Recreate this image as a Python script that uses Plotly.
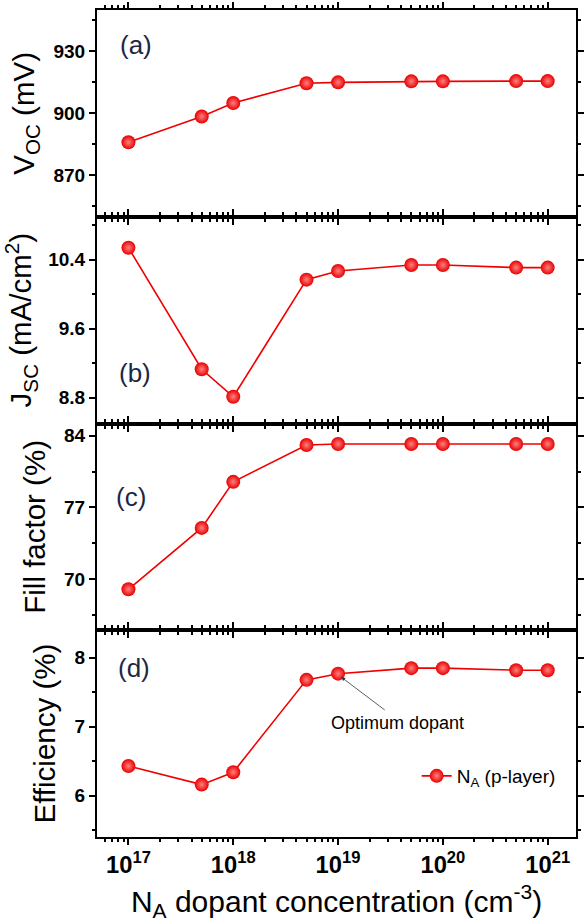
import numpy as np
import plotly.graph_objects as go
from plotly.subplots import make_subplots

conc = [1e17, 5e17, 1e18, 5e18, 1e19, 5e19, 1e20, 5e20, 1e21]
voc = [886, 898.5, 905, 914.6, 915, 915.5, 915.5, 915.6, 915.6]
jsc = [10.54, 9.13, 8.81, 10.17, 10.27, 10.34, 10.34, 10.31, 10.31]
ff = [69.0, 75.0, 79.5, 83.1, 83.2, 83.2, 83.2, 83.2, 83.2]
eff = [6.43, 6.16, 6.34, 7.68, 7.77, 7.85, 7.85, 7.82, 7.82]

series = [voc, jsc, ff, eff]
y_titles = ["V<sub>OC</sub> (mV)", "J<sub>SC</sub> (mA/cm<sup>2</sup>)",
            "Fill factor (%)", "Efficiency (%)"]
panel_labels = ["(a)", "(b)", "(c)", "(d)"]
y_ranges = [[850, 950], [8.5, 10.9], [65, 85.2], [5.4, 8.4]]
y_ticks = [[870, 900, 930], [8.8, 9.6, 10.4], [70, 77, 84], [6, 7, 8]]
y_ticktext = [["870", "900", "930"], ["8.8", "9.6", "10.4"], ["70", "77", "84"], ["6", "7", "8"]]
y_minor = [15, 0.4, 3.5, 0.5]

RED = "#f00000"
fig = make_subplots(rows=4, cols=1, shared_xaxes=True, vertical_spacing=0)

for i, ys in enumerate(series):
    fig.add_trace(go.Scatter(
        x=conc, y=ys, mode="lines+markers",
        name="N<sub>A</sub> (p-layer)",
        showlegend=(i == 3),
        line=dict(color=RED, width=1.6),
        marker=dict(size=14, color="#e80000",
                    gradient=dict(type="radial", color="#ff8080"),
                    line=dict(width=0)),
    ), row=i + 1, col=1)

axis_font = dict(family="Liberation Sans, Arial", size=19, color="black", weight="bold")
for i in range(4):
    fig.update_yaxes(
        row=i + 1, col=1,
        range=y_ranges[i], tickvals=y_ticks[i], ticktext=y_ticktext[i],
        ticks="outside", ticklen=6, tickwidth=1.5, tickcolor="black",
        showline=True, linecolor="black", linewidth=2, mirror="ticks",
        showgrid=False, zeroline=False, tickfont=axis_font,
        minor=dict(dtick=y_minor[i], tick0=y_ticks[i][0], ticks="outside",
                   ticklen=3, tickcolor="black", showgrid=False),
        title=dict(text=y_titles[i], standoff=10,
                   font=dict(family="Liberation Sans, Arial", size=29.5, color="black")),
    )
    fig.update_xaxes(
        row=i + 1, col=1,
        type="log", range=[16.70, 21.27], dtick=1, exponentformat="power",
        ticks="outside", ticklen=6, tickwidth=1.5, tickcolor="black",
        showline=True, linecolor="black", linewidth=2, mirror="ticks",
        showgrid=False, zeroline=False, tickfont=axis_font,
        showticklabels=(i == 3),
        minor=dict(dtick="D1", ticks="outside", ticklen=3, tickcolor="black", showgrid=False),
    )

fig.update_xaxes(row=4, col=1,
                 title=dict(text="N<sub>A</sub> dopant concentration (cm<sup>-3</sup>)",
                            standoff=16,
                            font=dict(family="Liberation Sans, Arial", size=30, color="black")))

label_pos = [(137, 45), (136, 373), (132, 497), (135, 668)]
for lab, (px, py) in zip(panel_labels, label_pos):
    fig.add_annotation(text=lab, xref="paper", yref="paper",
                       x=(px - 97) / 487, y=(837 - py) / 827,
                       xanchor="center", yanchor="middle", showarrow=False,
                       font=dict(family="Liberation Sans, Arial", size=26, color="#1c2744"))

fig.add_annotation(text="Optimum dopant", xref="paper", yref="paper",
                   x=(403 - 97) / 487, y=(837 - 723) / 827,
                   xanchor="center", yanchor="middle", showarrow=False,
                   font=dict(family="Liberation Sans, Arial", size=18, color="black"))
fig.add_annotation(text="", xref="x4", yref="y4",
                   x=np.log10(conc[4]) + 0.03, y=eff[4] - 0.05,
                   ax=45, ay=34, showarrow=True, arrowhead=2, arrowsize=1,
                   arrowwidth=0.8, arrowcolor="#333333", standoff=0)

fig.update_layout(
    width=585, height=922,
    margin=dict(l=97, r=1, t=10, b=85),
    paper_bgcolor="white", plot_bgcolor="white",
    showlegend=True,
    legend=dict(x=(422 - 97) / 487, y=(837 - 776) / 827, xanchor="left", yanchor="middle",
                bgcolor="rgba(0,0,0,0)",
                font=dict(family="Liberation Sans, Arial", size=19, color="black")),
)

fig.write_html("out.html")
